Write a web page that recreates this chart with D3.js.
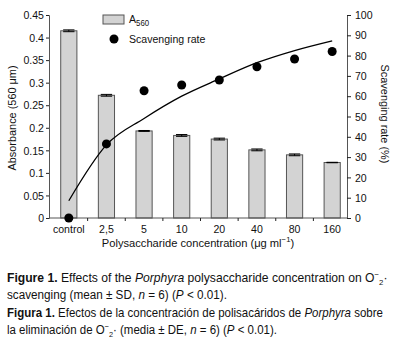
<!DOCTYPE html>
<html>
<head>
<meta charset="utf-8">
<script src="https://cdn.jsdelivr.net/npm/d3@7"></script>
<style>
  body { margin: 0; background: #fff; }
  svg text { font-family: "Liberation Sans", Arial, sans-serif; fill: #111; }
</style>
</head>
<body>
<svg id="chart" width="398" height="345"></svg>
<script>
// categories on the x axis
const categories = ["control", "2,5", "5", "10", "20", "40", "80", "160"];
// A560 absorbance (bars) and error (SD)
const absorbance = [0.415, 0.272, 0.193, 0.183, 0.175, 0.151, 0.140, 0.123];
const absorbanceSD = [0.002, 0.002, 0.001, 0.002, 0.002, 0.002, 0.002, 0.0005];
// scavenging rate (%) dots
const scavenging = [0, 36.5, 62.7, 65.5, 68, 74.5, 78.3, 82];
// fitted trend line (%)
const trend = [8.5, 36, 49, 60, 68.5, 76.5, 82.5, 87.3];
// axis ticks
const leftTicks = [0, 0.05, 0.1, 0.15, 0.2, 0.25, 0.3, 0.35, 0.4, 0.45];
const rightTicks = [0, 10, 20, 30, 40, 50, 60, 70, 80, 90, 100];

const svg = d3.select("#chart");

// plot area
const plot = { left: 49, right: 347, top: 15, bottom: 218 };
const fs = 11.5;

// squeeze text horizontally around its anchor (the reference uses a narrow face)
function squeeze(sel, sx) {
  sel.each(function() {
    const t = d3.select(this);
    const x0 = +t.attr("x") || 0;
    const prev = t.attr("transform") || "";
    t.attr("transform", `${prev} translate(${x0},0) scale(${sx},1) translate(${-x0},0)`);
  });
}

const x = d3.scaleBand()
  .domain(categories)
  .range([50, 351])
  .paddingInner(0.57)
  .paddingOuter(0.285);

const yLeft = d3.scaleLinear().domain([0, 0.45]).range([plot.bottom, plot.top]);
const yRight = d3.scaleLinear().domain([0, 100]).range([plot.bottom, plot.top]);

// bars
svg.append("g").selectAll("rect")
  .data(absorbance)
  .enter().append("rect")
  .attr("x", (d, i) => x(categories[i]))
  .attr("y", d => yLeft(d))
  .attr("width", x.bandwidth())
  .attr("height", d => plot.bottom - yLeft(d))
  .attr("fill", "#d3d3d3")
  .attr("stroke", "#555")
  .attr("stroke-width", 1);

// error bars
const err = svg.append("g").attr("stroke", "#000").attr("stroke-width", 1);
absorbance.forEach((d, i) => {
  const cx = x(categories[i]) + x.bandwidth() / 2;
  const hw = x.bandwidth() * 0.35;
  const top = yLeft(d + absorbanceSD[i]);
  const bot = yLeft(d - absorbanceSD[i]);
  err.append("line").attr("x1", cx).attr("x2", cx).attr("y1", top).attr("y2", bot);
  err.append("line").attr("x1", cx - hw).attr("x2", cx + hw).attr("y1", top).attr("y2", top);
  err.append("line").attr("x1", cx - hw).attr("x2", cx + hw).attr("y1", bot).attr("y2", bot);
});

// left axis
const leftAxis = d3.axisLeft(yLeft)
  .tickValues(leftTicks)
  .tickSize(3)
  .tickPadding(2)
  .tickFormat(d => d === 0 ? "0" : String(d));
const gl = svg.append("g").attr("transform", `translate(${plot.left},0)`).call(leftAxis);
gl.select(".domain").attr("stroke", "#555");
gl.selectAll(".tick line").attr("stroke", "#222");
gl.selectAll("text").attr("font-size", fs).attr("font-family", null);
squeeze(gl.selectAll("text"), 0.92);

// right axis
const rightAxis = d3.axisRight(yRight)
  .tickValues(rightTicks)
  .tickSize(4)
  .tickPadding(4);
const gr = svg.append("g").attr("transform", `translate(${plot.right},0)`).call(rightAxis);
gr.select(".domain").attr("stroke", "#555");
gr.selectAll(".tick line").attr("stroke", "#222");
gr.selectAll("text").attr("font-size", fs).attr("font-family", null);
squeeze(gr.selectAll("text"), 0.92);

// bottom axis
svg.append("line")
  .attr("x1", plot.left).attr("x2", plot.right)
  .attr("y1", plot.bottom).attr("y2", plot.bottom)
  .attr("stroke", "#555");
const bounds = d3.range(1, categories.length).map(i => x.range()[0] + i * x.step());
svg.append("g").selectAll("line")
  .data(bounds).enter().append("line")
  .attr("x1", d => d).attr("x2", d => d)
  .attr("y1", plot.bottom).attr("y2", plot.bottom + 3)
  .attr("stroke", "#222");
const xt = svg.append("g").selectAll("text")
  .data(categories).enter().append("text")
  .attr("x", d => x(d) + x.bandwidth() / 2)
  .attr("y", 233)
  .attr("text-anchor", "middle")
  .attr("font-size", fs)
  .text(d => d);
squeeze(xt, 0.92);

// trend line
const line = d3.line()
  .x((d, i) => x(categories[i]) + x.bandwidth() / 2)
  .y(d => yRight(d))
  .curve(d3.curveMonotoneX);
svg.append("path")
  .datum(trend)
  .attr("d", line)
  .attr("fill", "none")
  .attr("stroke", "#000")
  .attr("stroke-width", 1.3);

// scavenging dots
svg.append("g").selectAll("circle")
  .data(scavenging).enter().append("circle")
  .attr("cx", (d, i) => x(categories[i]) + x.bandwidth() / 2)
  .attr("cy", d => yRight(d))
  .attr("r", 4.5)
  .attr("fill", "#000");

// legend
svg.append("rect")
  .attr("x", 103).attr("y", 15).attr("width", 21).attr("height", 9)
  .attr("fill", "#d3d3d3").attr("stroke", "#555");
const la = svg.append("text").attr("x", 129).attr("y", 23).attr("font-size", fs);
la.append("tspan").text("A");
la.append("tspan").attr("font-size", 8.5).attr("dy", 3).text("560");
squeeze(la, 0.92);
svg.append("circle")
  .attr("cx", 114).attr("cy", 39).attr("r", 4.5)
  .attr("fill", "#000");
const ls = svg.append("text").attr("x", 129).attr("y", 43).attr("font-size", fs).text("Scavenging rate");
squeeze(ls, 0.92);

// axis titles
const t1 = svg.append("text")
  .attr("transform", "translate(16,118) rotate(-90)")
  .attr("text-anchor", "middle")
  .attr("font-size", fs)
  .text("Absorbance (560 μm)");
const t2 = svg.append("text")
  .attr("transform", "translate(381,114) rotate(90)")
  .attr("text-anchor", "middle")
  .attr("font-size", fs)
  .text("Scavenging rate (%)");
const xl = svg.append("text")
  .attr("x", 198).attr("y", 247)
  .attr("text-anchor", "middle")
  .attr("font-size", fs);
xl.append("tspan").text("Polysaccharide concentration (μg ml");
xl.append("tspan").attr("font-size", 8).attr("dy", -5).text("−1");
xl.append("tspan").attr("dy", 5).text(")");
squeeze(t1, 0.95);
squeeze(t2, 0.95);
squeeze(xl, 0.97);

// caption
const caption = [
  [["Figure 1.", "b"], [" Effects of the ", ""], ["Porphyra", "i"], [" polysaccharide concentration on O", ""], ["−", "sup"], ["2", "sub"], ["·", ""]],
  [["scavenging (mean ± SD, ", ""], ["n", "i"], [" = 6) (", ""], ["P", "i"], [" < 0.01).", ""]],
  [["Figura 1.", "b"], [" Efectos de la concentración de polisacáridos de ", ""], ["Porphyra", "i"], [" sobre", ""]],
  [["la eliminación de O", ""], ["−", "sup"], ["2", "sub"], ["·", ""], [" (media ± DE, ", ""], ["n", "i"], [" = 6) (", ""], ["P", "i"], [" < 0.01).", ""]]
];
const captionY = [282, 299, 317, 334];
const captionWidth = [381, 220, 376, 270];
caption.forEach((parts, li) => {
  const t = svg.append("text").attr("x", 7).attr("y", captionY[li]).attr("font-size", 12.5);
  let shift = 0;
  parts.forEach(([s, style]) => {
    const sp = t.append("tspan").text(s);
    let target = 0;
    if (style === "b") sp.attr("font-weight", "bold");
    if (style === "i") sp.attr("font-style", "italic");
    if (style === "sup") { sp.attr("font-size", 8); target = -5; }
    if (style === "sub") { sp.attr("font-size", 8); target = 3; }
    if (target !== shift) { sp.attr("dy", target - shift); shift = target; }
  });
  const w = t.node().getBBox().width;
  squeeze(t, captionWidth[li] / w);
});
</script>
</body>
</html>
